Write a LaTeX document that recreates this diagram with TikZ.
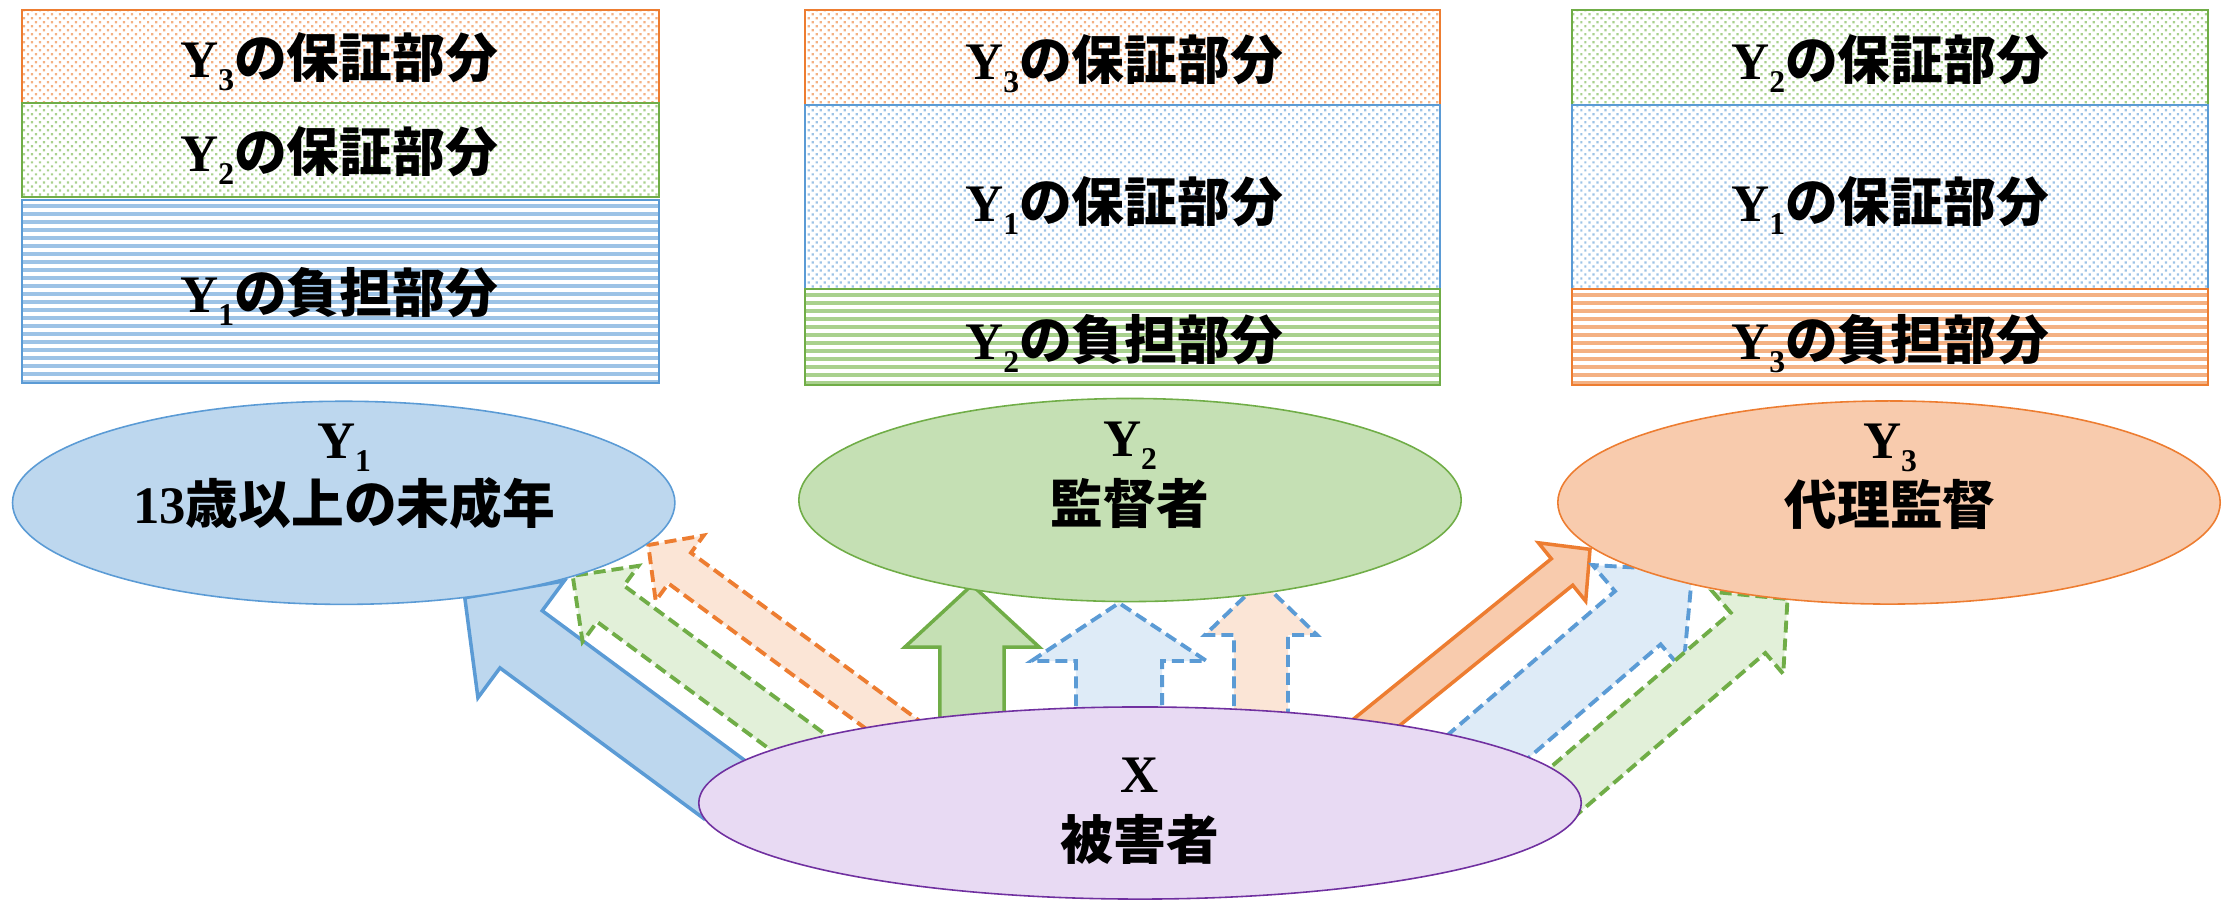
\documentclass[tikz,border=0pt]{standalone}
\usepackage{fontspec}
\setmainfont{Liberation Serif}
\newfontfamily\jp{Noto Sans CJK JP}[BoldFont={Noto Sans CJK JP Black}]
\usetikzlibrary{shapes.geometric,calc,patterns.meta}

\definecolor{bstroke}{HTML}{5B9BD5}
\definecolor{bfill}{HTML}{BDD7EE}
\definecolor{blight}{HTML}{DEEBF7}
\definecolor{bpat}{HTML}{9DC3E6}
\definecolor{gstroke}{HTML}{70AD47}
\definecolor{gfill}{HTML}{C5E0B4}
\definecolor{glight}{HTML}{E2F0D9}
\definecolor{gpat}{HTML}{A9D18E}
\definecolor{ostroke}{HTML}{ED7D31}
\definecolor{ofill}{HTML}{F8CBAD}
\definecolor{olight}{HTML}{FBE5D6}
\definecolor{opat}{HTML}{F4B183}
\definecolor{pstroke}{HTML}{7030A0}
\definecolor{pfill}{HTML}{E8DAF3}

\newcommand\Ysub[1]{{\rmfamily\bfseries Y\raisebox{-3.7pt}{\fontsize{9}{9}\selectfont #1}}}

% block arrow: style, tail coord, tip coord, shaft width, head width, head length (px)
\newcommand\blockarrow[6]{%
  \pgfmathsetlengthmacro\baw{#4*0.005cm}%
  \pgfmathsetlengthmacro\bahw{#5*0.005cm}%
  \pgfmathsetlengthmacro\bahl{#6*0.01cm}%
  \coordinate (ba-h) at ($(#3)!\bahl!(#2)$);
  \draw[#1] ($(#2)!\baw!90:(#3)$) -- ($(ba-h)!\baw!-90:(#2)$) -- ($(ba-h)!\bahw!-90:(#2)$)
    -- (#3) -- ($(ba-h)!\bahw!90:(#2)$) -- ($(ba-h)!\baw!90:(#2)$) -- ($(#2)!\baw!-90:(#3)$) -- cycle;
}

% striped section: stripe colour, border colour, x1, y1, x2, y2 (px)
\newcommand\stripesect[6]{%
  \begin{scope}
    \clip (#3,#4) rectangle (#5,#6);
    \foreach \k in {0,...,23} {\fill[#1] (#3,{#4+3.5+8*\k}) rectangle (#5,{#4+7.5+8*\k});}
  \end{scope}
  \draw[sect, draw=#2] (#3,#4) rectangle (#5,#6);
}

\tikzset{
  sect/.style={line width=0.4pt},
  dotsO/.style={sect, draw=ostroke, pattern={Dots[angle=45,distance=1.61pt,radius=0.45pt]}, pattern color=opat},
  dotsG/.style={sect, draw=gstroke, pattern={Dots[angle=45,distance=1.61pt,radius=0.45pt]}, pattern color=gpat},
  dotsB/.style={sect, draw=bstroke, pattern={Dots[angle=45,distance=1.61pt,radius=0.45pt]}, pattern color=bpat},
  oval/.style={ellipse, line width=0.45pt, inner sep=0pt, minimum width=6.62cm, minimum height=2.03cm},
  txt/.style={font=\fontsize{15}{18}\selectfont\jp\bfseries, inner sep=0pt, anchor=base},
  solidarr/.style={line width=1pt, line join=miter},
  dasharr/.style={line width=1.1pt, dash pattern=on 3.4pt off 1.7pt, line join=miter},
}

\begin{document}
\begin{tikzpicture}[x=0.01cm,y=-0.01cm]
\useasboundingbox (0,0) rectangle (2236,899);

% ---- top boxes ----
\draw[dotsO]  (22,10)   rectangle (659,103);
\draw[dotsG]  (22,103)  rectangle (659,197);
\stripesect{bpat}{bstroke}{22}{200}{659}{383}
\node[txt] (b1a) at (339,77)  {\Ysub{3}の保証部分};
\node[txt] (b1b) at (339,171) {\Ysub{2}の保証部分};
\node[txt] (b1c) at (339,312) {\Ysub{1}の負担部分};

\draw[dotsO]  (805,10)  rectangle (1440,105);
\draw[dotsB]  (805,105) rectangle (1440,289);
\stripesect{gpat}{gstroke}{805}{289}{1440}{385}
\node[txt] (b2a) at (1124,79)  {\Ysub{3}の保証部分};
\node[txt] (b2b) at (1124,221) {\Ysub{1}の保証部分};
\node[txt] (b2c) at (1124,359) {\Ysub{2}の負担部分};

\draw[dotsG]  (1572,10)  rectangle (2208,105);
\draw[dotsB]  (1572,105) rectangle (2208,289);
\stripesect{opat}{ostroke}{1572}{289}{2208}{385}
\node[txt] (b3a) at (1890,79)  {\Ysub{2}の保証部分};
\node[txt] (b3b) at (1890,221) {\Ysub{1}の保証部分};
\node[txt] (b3c) at (1890,359) {\Ysub{3}の負担部分};

% ---- arrow end points ----
\coordinate (t1) at (725,790);     \coordinate (p1) at (464.8,597.7);
\coordinate (t2) at (852,782);     \coordinate (p2) at (572.7,575.8);
\coordinate (t3) at (921.5,746);   \coordinate (p3) at (648.3,545);
\coordinate (t4) at (972,760);     \coordinate (p4) at (972,585);
\coordinate (t5) at (1119,760);    \coordinate (p5) at (1119,603);
\coordinate (t6) at (1261,760);    \coordinate (p6) at (1261,581);
\coordinate (t7) at (1344.7,748.1);\coordinate (p7) at (1590,549.3);
\coordinate (t8) at (1442,786);    \coordinate (p8) at (1692.4,570.9);
\coordinate (t9) at (1542.8,808.9);\coordinate (p9) at (1787.5,599);

% ---- arrows (behind the ovals) ----
\blockarrow{solidarr, draw=bstroke, fill=bfill}{t1}{p1}{71}{145}{70}
\blockarrow{dasharr, draw=gstroke, fill=glight}{t2}{p2}{45}{94}{47}
\blockarrow{dasharr, draw=ostroke, fill=olight}{t3}{p3}{38}{81}{39}
\blockarrow{solidarr, draw=gstroke, fill=gfill}{t4}{p4}{64}{134}{62}
\blockarrow{dasharr, draw=bstroke, fill=blight}{t5}{p5}{86}{175}{58}
\blockarrow{dasharr, draw=bstroke, fill=olight}{t6}{p6}{54}{112}{54}
\blockarrow{solidarr, draw=ostroke, fill=ofill}{t7}{p7}{34}{75}{36}
\blockarrow{dasharr, draw=bstroke, fill=blight}{t8}{p8}{70}{139}{72}
\blockarrow{dasharr, draw=gstroke, fill=glight}{t9}{p9}{53}{108}{52}

% ---- ovals ----
\node[oval, draw=bstroke, fill=bfill] (Y1) at (343.7,502.8) {};
\node[oval, draw=gstroke, fill=gfill] (Y2) at (1130,500) {};
\node[oval, draw=ostroke, fill=ofill] (Y3) at (1889,502.5) {};
\node[oval, draw=pstroke, fill=pfill, minimum width=8.82cm, minimum height=1.92cm] (X) at (1140,803) {};

\node[txt] (y1a) at (344,458) {\Ysub{1}};
\node[txt] (y1b) at (344,523) {{\rmfamily 13}歳以上の未成年};
\node[txt] (y2a) at (1130,456) {\Ysub{2}};
\node[txt] (y2b) at (1130,523) {監督者};
\node[txt] (y3a) at (1890,458) {\Ysub{3}};
\node[txt] (y3b) at (1890,524) {代理監督};
\node[txt] (xa) at (1140,792) {{\rmfamily X}};
\node[txt] (xb) at (1140,859) {被害者};
\end{tikzpicture}
\end{document}
